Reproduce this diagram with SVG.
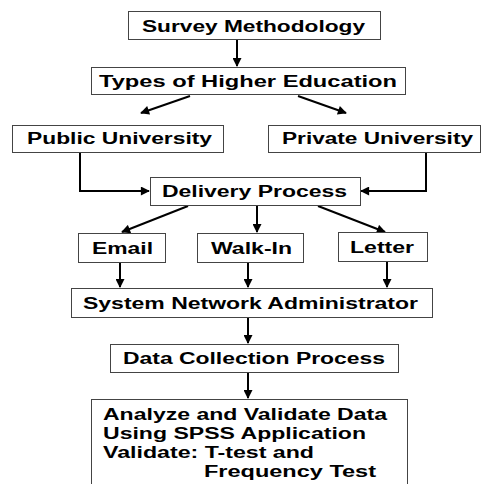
<svg xmlns="http://www.w3.org/2000/svg" width="483" height="484" viewBox="0 0 483 484">
<style>
.box{fill:#fff;stroke:#444;stroke-width:1}
.t{font-family:"Liberation Sans",Arial,sans-serif;font-weight:bold;font-size:16px;fill:#000}
.c{fill:none;stroke:#000;stroke-width:2;marker-end:url(#ah)}
</style>
<defs>
<marker id="ah" viewBox="0 0 10 10" refX="9" refY="5" markerWidth="5" markerHeight="4.5" orient="auto" markerUnits="strokeWidth">
<path d="M0,0 L10,5 L0,10 z" fill="#000"/>
</marker>
</defs>
<rect width="483" height="484" fill="#fff"/>
<g id="connectors">
<path class="c" d="M237,39 V66"/>
<path class="c" d="M190,96 L141,113"/>
<path class="c" d="M298,96 L346,113"/>
<path class="c" d="M80,152 V191 H149"/>
<path class="c" d="M426,152 V191 H361"/>
<path class="c" d="M188,206 L122,232"/>
<path class="c" d="M257,206 V232"/>
<path class="c" d="M318,206 L385,232"/>
<path class="c" d="M120,262 V287"/>
<path class="c" d="M248,262 V287"/>
<path class="c" d="M387,261 V287"/>
<path class="c" d="M248,317 V343"/>
<path class="c" d="M248,372 V398"/>
</g>
<g id="survey">
<rect class="box" x="128.5" y="11.5" width="252" height="28"/>
<text class="t" x="142" y="32" textLength="223" lengthAdjust="spacingAndGlyphs">Survey Methodology</text>
</g>
<g id="types">
<rect class="box" x="91.5" y="67.5" width="314" height="27"/>
<text class="t" x="99" y="87" textLength="298" lengthAdjust="spacingAndGlyphs">Types of Higher Education</text>
</g>
<g id="public">
<rect class="box" x="12.5" y="125.5" width="211" height="27"/>
<text class="t" x="27" y="144" textLength="185" lengthAdjust="spacingAndGlyphs">Public University</text>
</g>
<g id="private">
<rect class="box" x="268.5" y="125.5" width="212" height="27"/>
<text class="t" x="282" y="144" textLength="191" lengthAdjust="spacingAndGlyphs">Private University</text>
</g>
<g id="delivery">
<rect class="box" x="150.5" y="177.5" width="210" height="28"/>
<text class="t" x="162" y="197" textLength="185" lengthAdjust="spacingAndGlyphs">Delivery Process</text>
</g>
<g id="email">
<rect class="box" x="78.5" y="233.5" width="87" height="29"/>
<text class="t" x="92" y="254" textLength="61" lengthAdjust="spacingAndGlyphs">Email</text>
</g>
<g id="walkin">
<rect class="box" x="197.5" y="233.5" width="106" height="29"/>
<text class="t" x="211" y="254" textLength="81" lengthAdjust="spacingAndGlyphs">Walk-In</text>
</g>
<g id="letter">
<rect class="box" x="338.5" y="232.5" width="89" height="29"/>
<text class="t" x="350" y="253" textLength="64" lengthAdjust="spacingAndGlyphs">Letter</text>
</g>
<g id="sysadmin">
<rect class="box" x="71.5" y="288.5" width="361" height="29"/>
<text class="t" x="83" y="309" textLength="335" lengthAdjust="spacingAndGlyphs">System Network Administrator</text>
</g>
<g id="datacollection">
<rect class="box" x="110.5" y="344.5" width="288" height="28"/>
<text class="t" x="123" y="364" textLength="262" lengthAdjust="spacingAndGlyphs">Data Collection Process</text>
</g>
<g id="analyze">
<rect class="box" x="91.5" y="399.5" width="316" height="100"/>
<text class="t" x="103" y="420" textLength="284" lengthAdjust="spacingAndGlyphs">Analyze and Validate Data</text>
<text class="t" x="103" y="439" textLength="263" lengthAdjust="spacingAndGlyphs">Using SPSS Application</text>
<text class="t" x="103" y="458" textLength="211" lengthAdjust="spacingAndGlyphs">Validate: T-test and</text>
<text class="t" x="204" y="477" textLength="172" lengthAdjust="spacingAndGlyphs">Frequency Test</text>
</g>
</svg>
